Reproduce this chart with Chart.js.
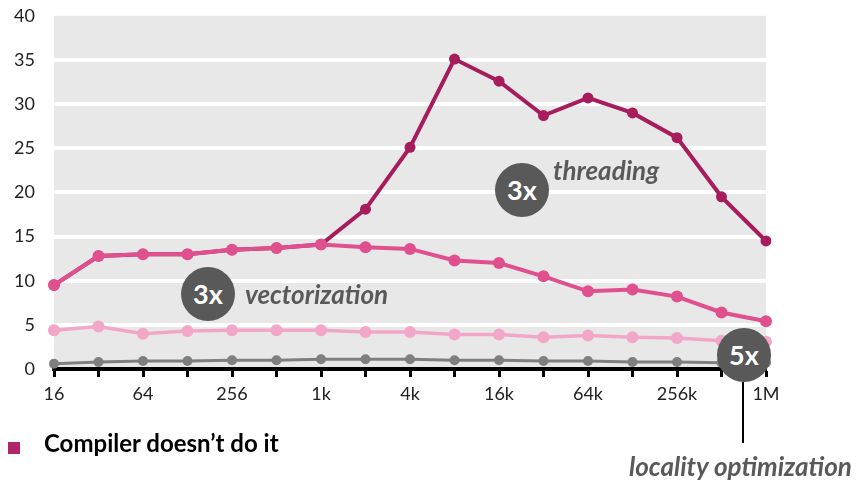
<!DOCTYPE html>
<html>
<head>
<meta charset="utf-8">
<script src="https://cdn.jsdelivr.net/npm/chart.js@4"></script>
<style>
  html, body { margin: 0; padding: 0; background: #fff; }
  #wrap { position: relative; width: 859px; height: 482px; overflow: hidden; font-family: Lato, "Open Sans", sans-serif; }
  #chart { position: absolute; left: 0; top: -14px; }
  .badge { position: absolute; width: 54px; height: 54px; border-radius: 50%; background: #595959;
           color: #fff; font-weight: bold; font-size: 27px; line-height: 54px; text-align: center; }
  .note { position: absolute; color: #595959; font-style: italic; font-weight: bold; font-size: 26px; white-space: nowrap; }
</style>
</head>
<body>
<div id="wrap">
  <canvas id="chart" width="859" height="496"></canvas>

  <div class="badge" style="left:495px; top:163px;">3x</div>
  <div class="note" style="left:553px; top:154px;">threading</div>

  <div class="badge" style="left:181px; top:267px;">3x</div>
  <div class="note" style="left:245px; top:278px;">vectorization</div>

  <div class="badge" style="left:717px; top:328px;">5x</div>
  <div style="position:absolute; left:742px; top:382px; width:2px; height:61px; background:#000;"></div>
  <div class="note" style="left:629px; top:450px;">locality optimization</div>

  <div style="position:absolute; left:8px; top:442px; width:12px; height:12px; background:#B0246A;"></div>
  <div style="position:absolute; left:44px; top:428px; font-weight:bold; font-size:24px; color:#000; white-space:nowrap;">Compiler doesn’t do it</div>
</div>

<script>
// Data
const sizes = ['16', '32', '64', '128', '256', '512', '1k', '2k', '4k', '8k', '16k', '32k', '64k', '128k', '256k', '512k', '1M'];
const threading = [9.5, 12.8, 13.0, 13.0, 13.5, 13.7, 14.1, 18.1, 25.1, 35.1, 32.6, 28.7, 30.7, 29.0, 26.2, 19.5, 14.5];
const vectorization = [9.5, 12.8, 13.0, 13.0, 13.5, 13.7, 14.1, 13.8, 13.6, 12.3, 12.0, 10.5, 8.8, 9.0, 8.2, 6.4, 5.4];
const scalarOpt = [4.4, 4.8, 4.0, 4.3, 4.4, 4.4, 4.4, 4.2, 4.2, 3.9, 3.9, 3.6, 3.8, 3.6, 3.5, 3.2, 3.1];
const baseline = [0.6, 0.8, 0.9, 0.9, 1.0, 1.0, 1.1, 1.1, 1.1, 1.0, 1.0, 0.9, 0.9, 0.8, 0.8, 0.7, 0.7];
const yTicks = [0, 5, 10, 15, 20, 25, 30, 35, 40];

// Gray plot background
const plotBackground = {
    id: 'plotBackground',
    beforeDraw(chart) {
        const { ctx, chartArea } = chart;
        ctx.save();
        ctx.fillStyle = '#e8e8e8';
        ctx.fillRect(chartArea.left, chartArea.top, chartArea.right - chartArea.left, chartArea.bottom - chartArea.top);
        ctx.restore();
    }
};

function series(data, color, width, radius) {
    return {
        data: data,
        borderColor: color,
        backgroundColor: color,
        borderWidth: width,
        pointRadius: radius,
        pointHoverRadius: radius,
        pointBorderWidth: 0,
        tension: 0
    };
}

const ctx = document.getElementById('chart').getContext('2d');
new Chart(ctx, {
    type: 'line',
    data: {
        labels: sizes,
        datasets: [
            series(vectorization, '#E0508E', 4, 6),
            series(threading, '#A61C5C', 4, 5.5),
            series(scalarOpt, '#F2A7C8', 3.5, 6),
            series(baseline, '#7F7F7F', 3, 5)
        ]
    },
    options: {
        responsive: false,
        animation: false,
        layout: {
            padding: { left: 0, right: 93, top: 1, bottom: 73 }
        },
        plugins: {
            legend: { display: false },
            tooltip: { enabled: false }
        },
        scales: {
            x: {
                offset: false,
                afterFit: function(scale) { scale.height = 40; },
                border: { display: true, color: '#000', width: 4 },
                grid: {
                    drawOnChartArea: false,
                    drawTicks: true,
                    tickLength: 8,
                    tickWidth: 3,
                    tickColor: '#000'
                },
                ticks: {
                    autoSkip: false,
                    maxRotation: 0,
                    padding: 6,
                    color: '#222',
                    font: { family: 'Lato', size: 18 },
                    callback: function(value, index) {
                        return index % 2 === 0 ? sizes[index] : '';
                    }
                }
            },
            y: {
                min: 0,
                max: 40,
                afterFit: function(scale) { scale.width = 54; },
                afterBuildTicks: function(scale) {
                    scale.ticks = yTicks.map(v => ({ value: v }));
                },
                border: { display: false },
                grid: {
                    drawTicks: false,
                    lineWidth: 4,
                    color: function(c) {
                        const v = c.tick && c.tick.value;
                        return (v === 0 || v === 40) ? 'rgba(0,0,0,0)' : '#ffffff';
                    }
                },
                ticks: {
                    padding: 19,
                    color: '#222',
                    font: { family: 'Lato', size: 18 }
                }
            }
        }
    },
    plugins: [plotBackground]
});
</script>
</body>
</html>
